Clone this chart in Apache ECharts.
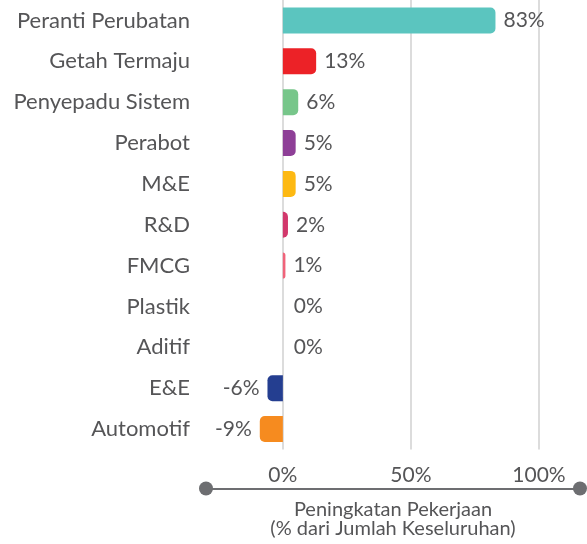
<!DOCTYPE html>
<html>
<head>
<meta charset="utf-8">
<script src="https://cdn.jsdelivr.net/npm/echarts@6/dist/echarts.min.js"></script>
<style>
  html, body { margin: 0; padding: 0; background: #fff; }
  #chart { width: 587px; height: 544px; }
</style>
</head>
<body>
<div id="chart"></div>
<script>
// Sectors, change in jobs (% of total) and bar colours
const categories = ['Peranti Perubatan', 'Getah Termaju', 'Penyepadu Sistem', 'Perabot', 'M&E', 'R&D', 'FMCG', 'Plastik', 'Aditif', 'E&E', 'Automotif'];
const values = [83, 13, 6, 5, 5, 2, 1, 0, 0, -6, -9];
const colors = ['#5bc5bf', '#ec2227', '#77c68a', '#8e3f97', '#fdb913', '#d2386c', '#f0637a', '#999999', '#999999', '#243e90', '#f68b1f'];
const tickValues = [0, 50, 100];
const axisTitle = 'Peningkatan Pekerjaan\n(% dari Jumlah Keseluruhan)';

const textColor = '#555557';
const fontFamily = 'Lato, "Noto Sans", sans-serif';
const fontWeight = 'normal';

const chart = echarts.init(document.getElementById('chart'), null, { renderer: 'canvas' });

const barData = values.map((v, i) => ({
  value: v,
  itemStyle: {
    color: colors[i],
    borderRadius: v < 0 ? [5, 0, 0, 5] : [0, 5, 5, 0]
  },
  label: {
    position: v < 0 ? 'left' : 'right',
    distance: v === 0 ? 11 : 8
  }
}));

chart.setOption({
  animation: false,
  grid: { left: 206, right: 7, top: -3, bottom: 91, containLabel: false },
  xAxis: {
    type: 'value',
    min: -30,
    max: 116,
    position: 'bottom',
    offset: 39,
    axisLine: {
      show: true,
      symbol: ['circle', 'circle'],
      symbolSize: [14, 14],
      lineStyle: { color: '#6d6e71', width: 2 }
    },
    axisTick: { show: false, customValues: tickValues },
    axisLabel: {
      inside: true,
      margin: 3,
      customValues: tickValues,
      formatter: '{value}%',
      color: textColor,
      fontSize: 21,
      fontWeight: fontWeight,
      fontFamily: fontFamily
    },
    splitLine: { show: true, lineStyle: { color: '#dcdcdc', width: 2 } },
    name: axisTitle,
    nameLocation: 'middle',
    nameGap: 12,
    nameTextStyle: {
      color: textColor,
      fontSize: 20,
      lineHeight: 19,
      fontWeight: fontWeight,
      fontFamily: fontFamily,
      verticalAlign: 'top'
    }
  },
  yAxis: {
    type: 'category',
    data: categories,
    inverse: true,
    axisLine: { show: false },
    axisTick: { show: false },
    splitLine: { show: false },
    axisLabel: {
      margin: 16,
      color: textColor,
      fontSize: 22,
      fontWeight: fontWeight,
      fontFamily: fontFamily
    }
  },
  series: [{
    type: 'bar',
    data: barData,
    barWidth: 26,
    label: {
      show: true,
      formatter: '{c}%',
      color: textColor,
      fontSize: 21,
      fontWeight: fontWeight,
      fontFamily: fontFamily
    }
  }]
});
</script>
</body>
</html>
